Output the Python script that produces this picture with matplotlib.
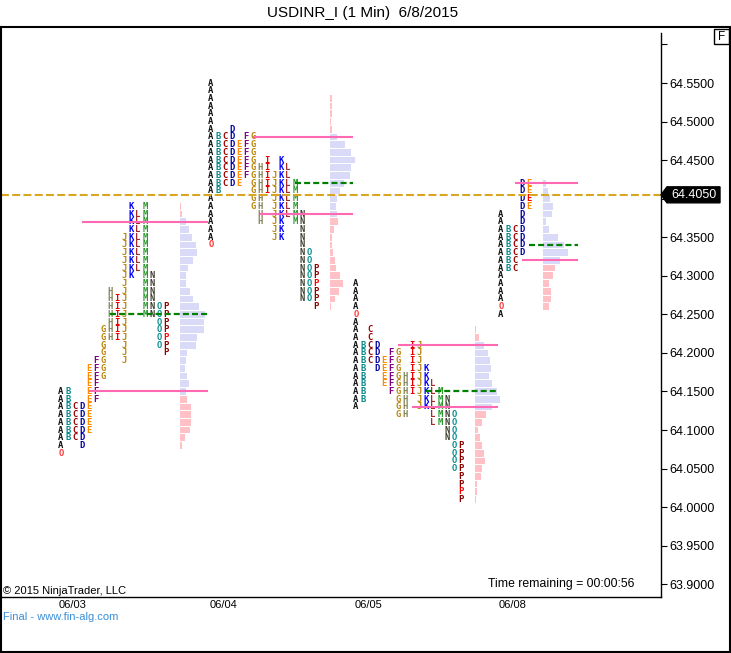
import matplotlib
matplotlib.use('Agg')
import matplotlib.pyplot as plt
from matplotlib.patches import Rectangle, Polygon
import numpy as np

# ---------------- data ----------------
day_labels = ['06/03', '06/04', '06/05', '06/08']

# top price of each profile (rows go down in 0.01 steps)
day1_top = 64.39
day1_rows = ["KM", "KLM", "KLM", "KLM", "JKLM", "JKLM", "JKLM", "JKLM", "JKLM",
             "JKMN", "JMN", "HJMN", "HIJMN", "HIJMNOP", "HIJMNOP", "HIJOP",
             "GHIJOP", "GHIJOP", "GJOP", "GJP", "FGJ", "EFG", "EFG", "EF",
             "ABEF", "ABEF", "ABCDE", "ABCDE", "ABCDE", "ABCDE", "ABCD", "AD", "A"]
day1_vol = [1, 2, 6, 9, 12, 16, 17, 13, 8, 6, 6, 10, 13, 19, 25, 24, 24, 17, 16,
            7, 6, 5, 7, 9, 6, 7, 11, 11, 11, 10, 5, 2, 0]

day2_top = 64.55
day2_rows = ["A", "A", "A", "A", "A", "A", "AD", "ABCDFG", "ABCDEFG", "ABCDEFG",
             "ABCDEFGIK", "ABCDEFGHIKL", "ABCDEFGHIJKL", "ABCDEGHIJKLM",
             "ABGHIJKLM", "AGHJKLM", "AGHJKLM", "AHJKLMN", "AHJKMN", "AJKN",
             "AJKN", "AN", "NO", "NO", "NOP", "NOP", "NOP", "NOP", "NOP", "P"]
day2_vol = [0, 0, 2, 2, 2, 1, 2, 7, 15, 21, 25, 21, 20, 14, 10, 7, 6, 7, 8, 4,
            2, 2, 3, 5, 6, 10, 13, 9, 5, 1]

day3_top = 64.29
day3_rows = ["A", "A", "A", "A", "A", "A", "AC", "AC", "ABCDIJ", "ABCDFGIJ",
             "ABCDEFGIJ", "ABDEFGIJK", "ABEFGHIJK", "ABEFGHIJKL", "ABFGHIJKLM",
             "ABGHJKLMN", "AGHJKLMN", "GHLMNO", "LMNO", "NO", "NO", "OP", "OP",
             "OP", "OP", "P", "P", "P", "P"]
day3_vol = [0, 0, 0, 0, 0, 0, 1, 4, 9, 13, 15, 16, 14, 17, 22, 25, 17, 11, 7, 3,
            5, 7, 9, 10, 7, 6, 2, 2, 1]

day4_top = 64.42
day4_rows = ["DE", "DE", "DE", "DE", "AD", "AD", "ABCD", "ABCD", "ABCD", "ABCD",
             "ABC", "ABC", "A", "A", "A", "A", "A", "A"]
day4_vol = [3, 5, 7, 10, 9, 3, 6, 15, 21, 25, 17, 12, 10, 6, 8, 8, 6, 0]

open_price = [64.07, 64.34, 64.25, 64.26]
close_price = [64.22, 64.29, 64.02, 64.40]
close_letter = ['P', 'P', 'P', 'E']
vah = [64.37, 64.48, 64.21, 64.42]
val = [64.15, 64.38, 64.13, 64.32]
poc = [64.25, 64.42, 64.15, 64.34]
# first letter column where each level line starts
vah_col = [3, 6, 6, 2]
val_col = [4, 7, 8, 3]
poc_col = [7, 12, 10, 4]

last_price = 64.4050
price_ticks = [63.90, 63.95, 64.00, 64.05, 64.10, 64.15, 64.20, 64.25, 64.30,
               64.35, 64.40, 64.45, 64.50, 64.55, 64.60]

title = "USDINR_I (1 Min)  6/8/2015"

# ---------------- style / layout ----------------
W, H = 731, 653
PL, PR, PT, PB = 1, 661, 27, 597
day_origin = [61, 211, 356, 501]   # pixel x of column A
col_w = 7
line_extra = [3, -2, -2, 10]
letter_colors = {
    'A': '#111111', 'B': '#0a8a8a', 'C': '#990000', 'D': '#0000a0',
    'E': '#ff8c00', 'F': '#800080', 'G': '#b8860b', 'H': '#84845a',
    'I': '#ee0000', 'J': '#b8860b', 'K': '#0000ff', 'L': '#a52a2a',
    'M': '#2a9a2a', 'N': '#3c3c2c', 'O': '#0a9090', 'P': '#8b0000',
}
VA_COLOR = '#d9d9f8'
OUT_COLOR = '#ffc0c6'
PINK = '#ff69b4'
GREEN = '#008000'
GOLD = '#daa520'
FONT = 'Liberation Sans'

fig = plt.figure(figsize=(W / 100, H / 100), dpi=100)
ax = fig.add_axes([PL / W, 1 - PB / H, (PR - PL) / W, (PB - PT) / H])
pp = (584.3 - 83) / 0.65           # pixels per price unit
ytop = 64.55 + (83 - PT) / pp
ybot = 64.55 - (PB - 83) / pp
ax.set_xlim(PL, PR)
ax.set_ylim(ybot, ytop)

days = [(day1_top, day1_rows, day1_vol), (day2_top, day2_rows, day2_vol),
        (day3_top, day3_rows, day3_vol), (day4_top, day4_rows, day4_vol)]

for d, (top, rows, vols) in enumerate(days):
    x0 = day_origin[d]
    prices = np.round(top - 0.01 * np.arange(len(rows)), 2)
    maxcol = max(ord(c) - 65 for r in rows for c in r)
    hist_x = x0 + (maxcol + 2) * col_w
    cols = [VA_COLOR if (val[d] - 1e-6 <= p <= vah[d] + 1e-6) else OUT_COLOR for p in prices]
    ax.barh(prices, vols, left=hist_x, height=0.0087, color=cols, zorder=1, linewidth=0)
    for p, r in zip(prices, rows):
        for c in r:
            k = ord(c) - 65
            x = x0 + k * col_w
            txt, colr = c, letter_colors[c]
            if c == 'A' and abs(p - open_price[d]) < 1e-6:
                txt, colr = 'O', '#ff3838'
            if c == close_letter[d] and abs(p - close_price[d]) < 1e-6:
                colr = '#ff0000'
            ax.text(x, p, txt, ha='center', va='center', fontsize=6.4,
                    family='DejaVu Sans Mono', weight='bold', color=colr, zorder=2)
    xend = hist_x + max(vols) + line_extra[d]
    ax.plot([x0 + vah_col[d] * col_w, xend], [vah[d]] * 2, color=PINK, lw=1.5,
            zorder=3, solid_capstyle='butt')
    ax.plot([x0 + val_col[d] * col_w, xend], [val[d]] * 2, color=PINK, lw=1.5,
            zorder=3, solid_capstyle='butt')
    ax.plot([x0 + poc_col[d] * col_w, xend], [poc[d]] * 2, color=GREEN, lw=1.6,
            zorder=3, dashes=(2.7, 1.4))

ax.axhline(last_price, color=GOLD, lw=1.5, dashes=(3.8, 1.6), zorder=3)

for s in ['top', 'left']:
    ax.spines[s].set_visible(False)
ax.spines['bottom'].set_linewidth(1.0)
ax.spines['right'].set_linewidth(1.0)
ax.spines['right'].set_bounds(ybot, 64.55 + (83 - 33) / pp)
ax.yaxis.tick_right()
ax.set_yticks(price_ticks)
# 64.6000 is clipped off in the reference; 64.4000 lies under the last-price marker
ax.set_yticklabels(['%.4f' % t if (t < 64.58 and abs(t - 64.40) > 1e-6) else ''
                    for t in price_ticks], fontfamily=FONT)
ax.tick_params(axis='y', length=4.3, width=0.8, pad=1.5, labelsize=9, colors='black')
ax.set_xticks([o + 12 for o in day_origin])
ax.set_xticklabels(day_labels, fontfamily=FONT)
ax.tick_params(axis='x', length=0, pad=2.5, labelsize=8)

def axx(px):
    return (px - PL) / (PR - PL)
hh = 8 / pp
poly = Polygon([(axx(661), last_price), (axx(667), last_price + hh), (axx(720), last_price + hh),
                (axx(720), last_price - hh), (axx(667), last_price - hh)], closed=True,
               transform=ax.get_yaxis_transform(), facecolor='black', edgecolor='black',
               clip_on=False, zorder=10)
ax.add_patch(poly)
ax.text(axx(694), last_price, '%.4f' % last_price, transform=ax.get_yaxis_transform(),
        ha='center', va='center', color='white', fontsize=9, family=FONT,
        zorder=11, clip_on=False)

ov = fig.add_axes([0, 0, 1, 1])
ov.set_xlim(0, W)
ov.set_ylim(H, 0)
ov.axis('off')
ov.patch.set_alpha(0)
ov.plot([0.5, 729.5, 729.5, 1.0, 1.0], [27, 27, 652, 652, 27], color='black', lw=1.5,
        solid_joinstyle='miter')
ov.add_patch(Rectangle((714, 29), 15, 15, facecolor='white', edgecolor='black', lw=1))
ov.text(721.5, 36.5, 'F', ha='center', va='center', fontsize=8.5, family=FONT)
ov.text(363, 13, title, ha='center', va='center', fontsize=11, family=FONT)
ov.text(3, 591, '\u00a9 2015 NinjaTrader, LLC', ha='left', va='center', fontsize=8,
        family=FONT)
ov.text(634, 584, 'Time remaining = 00:00:56', ha='right', va='center', fontsize=8.8,
        family=FONT)
ov.text(3, 617, 'Final - www.fin-alg.com', ha='left', va='center', fontsize=8,
        family=FONT, color='#3a8fd8')

fig.savefig('out.png', dpi=100)
